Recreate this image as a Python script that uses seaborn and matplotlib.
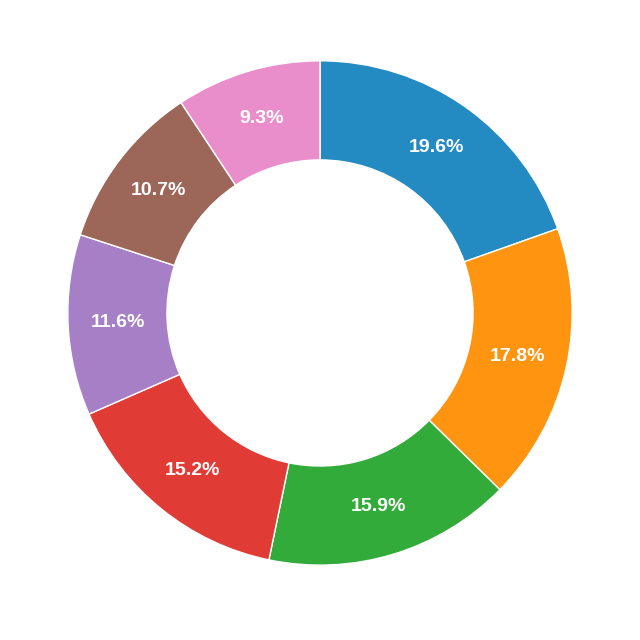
import matplotlib
matplotlib.use("Agg")
import matplotlib.pyplot as plt
import seaborn as sns
import numpy as np

shares = [19.6, 17.8, 15.9, 15.2, 11.6, 10.7, 9.3]
labels = ["19.6%", "17.8%", "15.9%", "15.2%", "11.6%", "10.7%", "9.3%"]
colors = ["#238ac2", "#ff9410", "#33ab3a", "#e03c35", "#a67fc7", "#9c6759", "#e98ecb"]

sns.set_theme(style="white")
plt.rcParams["font.family"] = ["Liberation Sans", "DejaVu Sans"]

fig = plt.figure(figsize=(6.4, 6.4), dpi=100)
ax = fig.add_axes([0.106, 0.117, 0.788, 0.788])

ring = 0.393
wedges, _ = ax.pie(
    shares,
    colors=colors,
    startangle=90,
    counterclock=False,
    radius=1,
    wedgeprops=dict(width=ring, edgecolor="white", linewidth=1),
)

# labels at the middle of each ring segment
r_mid = 1 - ring / 2
for w, lab in zip(wedges, labels):
    ang = np.deg2rad((w.theta1 + w.theta2) / 2)
    ax.text(r_mid * np.cos(ang), r_mid * np.sin(ang), lab,
            ha="center", va="center", color="white",
            fontsize=14, fontweight="bold")

ax.set_xlim(-1, 1)
ax.set_ylim(-1, 1)
ax.set_aspect("equal")
ax.axis("off")

fig.savefig("out.png", dpi=100, facecolor="white")
